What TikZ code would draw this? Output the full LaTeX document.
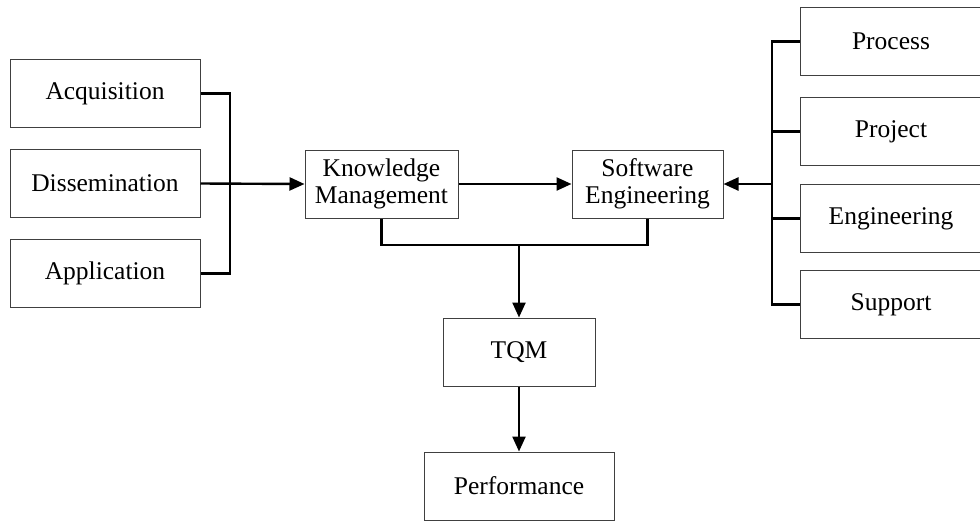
\documentclass[tikz,border=0pt]{standalone}
\usepackage{fontspec}
\setmainfont{Liberation Serif}
\usepackage{tikz}
\usetikzlibrary{arrows.meta}
\tikzstyle{box}=[draw=black!75, line width=1pt, rectangle, align=center,
  minimum height=68pt, inner sep=0pt, font=\fontsize{25.5}{27}\selectfont]
\tikzstyle{link}=[line width=2.4pt]

\begin{document}
\begin{tikzpicture}[x=1pt, y=-1pt, >={Triangle[length=15pt,width=13pt]}]
        \useasboundingbox (0,0) rectangle (980,520);
        % left column
        \node[box, minimum width=190pt] (acq) at (105,93.5) {Acquisition};
        \node[box, minimum width=190pt] (dis) at (105,183.5) {Dissemination};
        \node[box, minimum width=190pt] (app) at (105,273.5) {Application};
        % middle
        \node[box, minimum width=153pt] (km) at (381.5,184) {Knowledge\\Management};
        \node[box, minimum width=151pt] (se) at (647.5,184) {Software\\Engineering};
        \node[box, minimum width=152pt] (tqm) at (519,352) {TQM};
        \node[box, minimum width=190pt] (perf) at (519,486) {Performance};
        % right column
        \node[box, minimum width=182pt] (proc) at (891,41.5) {Process};
        \node[box, minimum width=182pt] (proj) at (891,131.5) {Project};
        \node[box, minimum width=182pt] (eng) at (891,218.5) {Engineering};
        \node[box, minimum width=182pt] (sup) at (891,304.5) {Support};
        \coordinate (lj) at (230,183.5);
        \coordinate (rj) at (772,184);
        \coordinate (bus) at (519,245);
        % connectors
        \draw[link] (acq.east) -| (lj) |- (app.east);
        \draw[link, ->] (dis.east) -- (km.west);
        \draw[link, ->] (km.east) -- (se.west);
        \draw[link] (proc.west) -| (rj) |- (sup.west);
        \draw[link] (proj.west) -| (rj);
        \draw[link] (eng.west) -| (rj);
        \draw[link, ->] (rj) -- (se.east);
        \draw[link] (km.south) |- (bus) -| (se.south);
        \draw[link, ->] (bus) -- (tqm.north);
        \draw[link, ->] (tqm.south) -- (perf.north);
    \end{tikzpicture}
\end{document}
